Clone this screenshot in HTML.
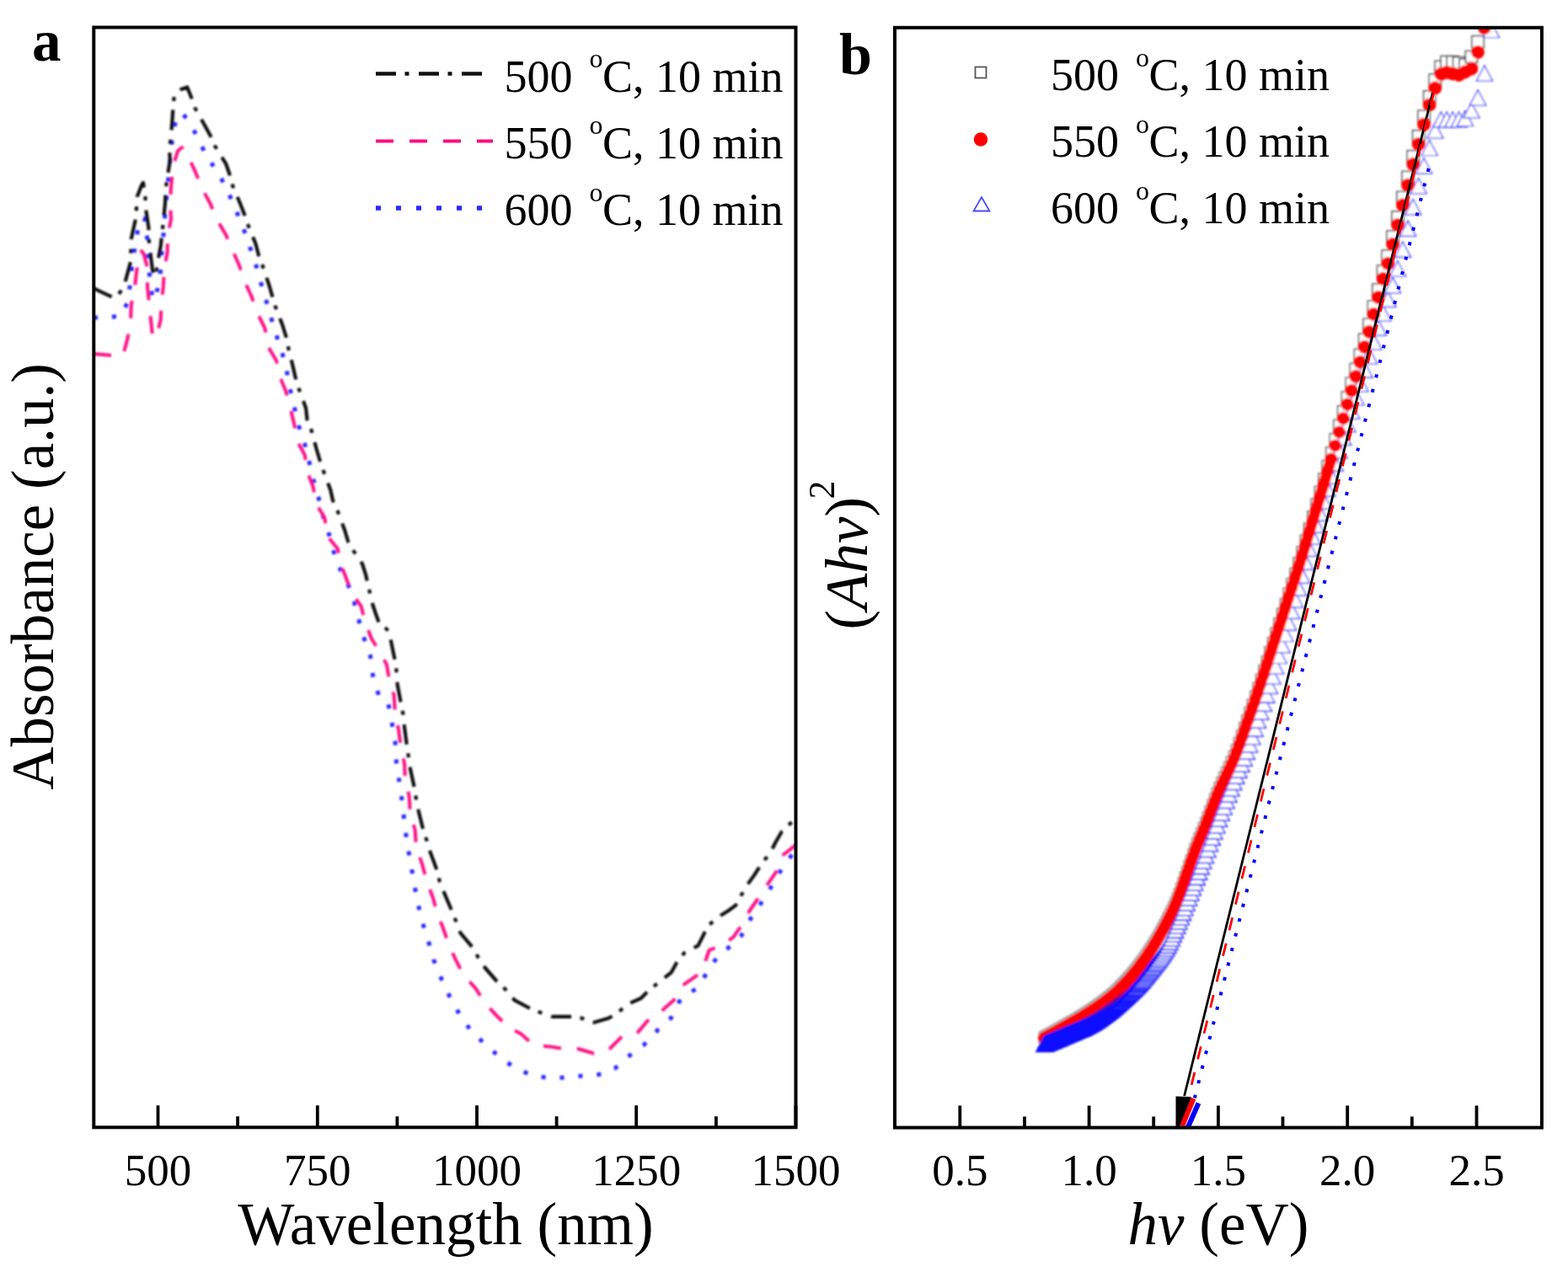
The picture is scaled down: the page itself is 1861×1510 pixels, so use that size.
<!DOCTYPE html>
<html><head><meta charset="utf-8"><title>Absorbance and Tauc plot</title>
<style>
html,body{margin:0;padding:0;background:#fff;}
svg{display:block;}
text{font-family:"Liberation Serif","Times New Roman",serif;fill:#000;}
</style></head><body>
<svg width="1861" height="1510" viewBox="0 0 1861 1510">
<defs>
<clipPath id="ca"><rect x="111.3" y="32.5" width="833.2" height="1305.8"/></clipPath>
<clipPath id="cb"><rect x="1062.0" y="32.8" width="767.9000000000001" height="1305.8"/></clipPath>
<filter id="soft" x="-2%" y="-2%" width="104%" height="104%"><feGaussianBlur stdDeviation="1.0"/></filter>
</defs>
<rect width="1861" height="1510" fill="#fff"/>

<g clip-path="url(#ca)"><g filter="url(#soft)" fill="none" stroke-linejoin="round">
<polyline points="111.0,377.0 125.5,377.2 143.8,374.8 151.7,358.2 155.0,333.5 157.3,309.7 161.3,286.6 165.2,263.6 168.5,259.0 171.6,259.6 174.8,283.4 175.6,308.0 178.0,331.0 181.0,355.0 183.5,356.0 186.7,343.9 190.7,320.8 192.2,297.0 194.6,273.0 196.2,249.3 198.6,225.4 200.8,201.5 203.0,177.3 205.8,153.6 210.0,140.0 216.5,134.0 228.3,150.8 239.0,173.3 250.3,192.5 262.7,212.0 273.4,234.0 282.4,255.0 291.2,277.3 298.6,299.3 306.0,321.4 312.0,344.6 319.4,368.0 325.5,391.0 333.4,413.4 339.5,435.6 343.6,459.3 349.2,483.0 354.8,506.6 361.7,527.4 367.3,549.7 372.9,573.3 379.8,597.0 385.4,620.6 393.7,643.0 398.7,666.5 410.4,687.4 418.7,708.2 425.1,733.3 431.3,755.5 439.6,779.0 442.5,801.7 449.5,825.4 460.6,833.7 464.8,856.0 469.0,880.0 470.3,904.0 474.0,928.3 477.3,952.0 480.0,975.6 482.9,999.0 487.0,1022.9 491.2,1046.5 495.4,1070.0 501.0,1093.8 508.0,1116.0 514.8,1139.7 524.1,1162.5 534.2,1184.0 546.5,1206.0 560.4,1225.6 577.8,1241.0 596.0,1257.8 614.8,1269.3 633.0,1277.3 651.0,1279.3 671.2,1279.3 694.7,1276.7 713.5,1275.3 730.3,1268.0 747.8,1252.5 764.0,1240.6 780.4,1223.0 796.8,1207.9 807.7,1186.0 827.4,1172.9 839.4,1154.3 851.5,1135.7 863.5,1126.0 879.9,1110.6 891.9,1088.8 906.0,1068.0 918.0,1048.3 930.0,1027.6 946.0,1007.0" stroke="#2828ff" stroke-width="5" stroke-dasharray="5 17"/>
<polyline points="111.0,420.0 131.0,421.7 146.0,421.7 151.0,403.5 155.0,384.4 155.7,362.0 159.7,343.9 162.0,323.0 165.2,305.0 168.0,298.0 170.8,301.7 174.8,317.6 175.0,340.7 177.0,359.0 179.0,379.6 181.0,398.7 183.5,401.0 186.0,398.7 190.7,379.6 191.5,359.0 193.8,340.7 195.0,318.4 198.6,300.0 199.0,279.5 203.0,260.4 202.0,239.7 203.0,222.0 205.3,198.0 211.0,179.0 216.0,175.0 224.4,188.0 231.7,203.7 240.0,224.0 249.7,242.0 257.0,260.0 268.0,278.5 275.3,295.6 283.9,315.0 290.0,333.6 298.6,352.0 304.7,370.0 314.5,390.0 317.0,409.6 328.0,428.0 332.5,448.0 339.5,465.0 345.0,485.7 349.2,503.8 353.4,524.6 361.7,540.0 364.5,559.4 371.5,577.5 375.6,598.4 385.4,615.0 388.0,636.0 400.7,651.2 404.8,670.7 411.8,688.8 417.4,704.0 428.5,719.4 434.0,740.0 441.0,758.3 448.0,769.4 459.0,789.0 462.0,807.3 467.6,825.4 469.0,847.6 473.0,865.7 476.0,888.0 480.0,906.0 481.0,927.0 485.6,945.0 487.0,967.0 492.6,985.0 494.0,1006.0 501.0,1025.6 506.5,1046.5 513.5,1064.6 519.0,1084.0 526.0,1102.0 532.8,1122.0 541.0,1139.6 550.3,1157.8 564.4,1173.2 576.5,1192.0 589.3,1205.5 603.4,1219.6 618.0,1227.0 633.0,1240.4 652.4,1242.4 668.5,1245.0 686.0,1245.0 704.8,1250.5 722.2,1246.4 738.4,1230.3 755.8,1227.0 768.4,1212.0 782.6,1202.4 800.0,1187.0 808.8,1170.7 826.3,1158.7 836.0,1144.5 841.6,1128.0 855.8,1122.6 870.0,1112.8 881.0,1097.5 889.7,1081.0 899.5,1067.0 910.5,1050.5 922.5,1033.0 930.0,1014.5 946.0,1002.0" stroke="#ff0a84" stroke-width="4" stroke-dasharray="21 19"/>
<polyline points="111.0,342.0 117.5,345.4 135.0,353.4 140.0,351.0 143.8,344.7 148.5,335.0 155.0,311.0 155.3,297.0 155.7,284.0 160.5,262.0 162.0,247.0 162.8,233.4 168.0,220.0 170.0,217.0 172.4,233.4 173.0,247.7 176.4,270.0 176.6,283.4 178.0,297.0 181.0,320.8 184.5,328.0 186.7,314.5 190.7,292.0 192.2,278.0 194.0,262.0 196.0,241.0 196.5,227.0 198.0,214.0 201.9,190.2 200.8,176.0 202.8,164.3 204.7,139.5 205.5,126.0 207.0,112.0 215.0,106.0 222.2,103.5 227.2,116.0 231.2,127.7 243.5,149.7 249.7,161.0 254.8,172.8 268.3,194.7 272.8,207.7 276.2,220.6 285.2,242.0 290.3,255.0 295.0,268.7 303.5,289.5 307.0,303.0 312.0,316.5 319.4,338.5 323.0,350.8 326.8,364.0 335.3,386.0 339.5,399.5 342.3,413.4 347.8,435.6 350.6,448.0 354.8,462.0 363.0,484.3 364.5,498.0 370.0,512.0 375.6,533.0 379.8,547.0 384.0,559.4 392.3,581.7 395.0,594.0 400.7,606.7 409.0,629.0 413.2,643.0 418.7,652.6 430.0,669.3 434.0,681.8 436.8,694.3 442.4,718.0 446.6,730.5 450.7,741.6 458.0,746.0 461.9,750.0 464.6,763.9 470.0,790.0 471.7,812.9 475.9,835.0 478.7,849.0 480.0,863.0 482.9,885.0 485.0,899.0 487.0,913.0 491.8,935.0 494.0,949.0 496.8,963.0 502.3,985.0 506.5,997.8 510.7,1011.7 519.0,1034.0 521.8,1046.5 527.4,1060.4 535.7,1080.0 541.3,1093.8 546.3,1107.4 561.0,1124.9 567.8,1137.0 575.8,1149.0 589.3,1164.5 601.3,1175.9 610.8,1187.3 629.6,1197.4 641.6,1202.0 655.0,1206.8 678.6,1206.8 690.7,1208.8 704.0,1214.0 722.2,1208.8 733.7,1202.0 743.7,1192.7 760.8,1185.0 770.6,1175.0 780.4,1167.4 796.8,1154.3 803.4,1142.3 812.0,1131.4 828.5,1122.6 834.0,1111.7 840.5,1098.6 855.8,1086.6 864.6,1081.0 873.3,1074.6 885.3,1052.7 894.7,1039.6 901.7,1028.7 914.8,1011.2 921.0,999.0 928.0,987.0 946.0,970.0" stroke="#111" stroke-width="4.2" stroke-dasharray="24 10.5 5 11.5"/>
</g></g>
<rect x="111.3" y="32.5" width="833.2" height="1305.8" fill="none" stroke="#000" stroke-width="4"/>
<path d="M187.5,1338.3V1312.3 M282.1,1338.3V1325.3 M376.8,1338.3V1312.3 M471.4,1338.3V1325.3 M566.0,1338.3V1312.3 M660.6,1338.3V1325.3 M755.2,1338.3V1312.3 M849.9,1338.3V1325.3 M944.5,1338.3V1312.3" stroke="#000" stroke-width="3.8" fill="none"/>
<text x="187.5" y="1407" font-size="53" text-anchor="middle">500</text>
<text x="376.8" y="1407" font-size="53" text-anchor="middle">750</text>
<text x="566.0" y="1407" font-size="53" text-anchor="middle">1000</text>
<text x="755.2" y="1407" font-size="53" text-anchor="middle">1250</text>
<text x="944.5" y="1407" font-size="53" text-anchor="middle">1500</text>
<text x="529" y="1477" font-size="71" text-anchor="middle">Wavelength (nm)</text>
<text transform="translate(63,684.5) rotate(-90)" font-size="71" text-anchor="middle">Absorbance (a.u.)</text>
<text x="38" y="72" font-size="69" font-weight="bold">a</text>
<line x1="446" y1="87.5" x2="572.5" y2="87.5" stroke="#111" stroke-width="4.5" stroke-dasharray="24 10.5 5 11.5"/>
<line x1="446" y1="167.5" x2="585" y2="167.5" stroke="#ff0a84" stroke-width="4" stroke-dasharray="21 19"/>
<line x1="446" y1="247" x2="575" y2="247" stroke="#2828ff" stroke-width="5.5" stroke-dasharray="6 18"/>
<text x="598.5" y="108.5" font-size="54">500</text><text x="699.5" y="80.0" font-size="32">o</text><text x="715.0" y="108.5" font-size="54">C, 10 min</text>
<text x="598.5" y="187.8" font-size="54">550</text><text x="699.5" y="159.3" font-size="32">o</text><text x="715.0" y="187.8" font-size="54">C, 10 min</text>
<text x="598.5" y="267.1" font-size="54">600</text><text x="699.5" y="238.60000000000002" font-size="32">o</text><text x="715.0" y="267.1" font-size="54">C, 10 min</text>
<g clip-path="url(#cb)"><g filter="url(#soft)">
<g fill="#fff" stroke-width="1.5">
<rect x="1232.9" y="1225.2" width="13.2" height="13.2" stroke="rgb(174,174,174)"/>
<rect x="1233.7" y="1224.7" width="13.2" height="13.2" stroke="rgb(174,174,174)"/>
<rect x="1234.6" y="1224.3" width="13.2" height="13.2" stroke="rgb(174,174,174)"/>
<rect x="1235.4" y="1223.9" width="13.2" height="13.2" stroke="rgb(174,174,174)"/>
<rect x="1236.3" y="1223.4" width="13.2" height="13.2" stroke="rgb(174,174,174)"/>
<rect x="1237.2" y="1223.0" width="13.2" height="13.2" stroke="rgb(174,174,174)"/>
<rect x="1238.0" y="1222.5" width="13.2" height="13.2" stroke="rgb(174,174,174)"/>
<rect x="1238.9" y="1222.0" width="13.2" height="13.2" stroke="rgb(174,174,174)"/>
<rect x="1239.8" y="1221.6" width="13.2" height="13.2" stroke="rgb(173,173,173)"/>
<rect x="1240.7" y="1221.1" width="13.2" height="13.2" stroke="rgb(173,173,173)"/>
<rect x="1241.6" y="1220.6" width="13.2" height="13.2" stroke="rgb(173,173,173)"/>
<rect x="1242.5" y="1220.1" width="13.2" height="13.2" stroke="rgb(173,173,173)"/>
<rect x="1243.4" y="1219.7" width="13.2" height="13.2" stroke="rgb(173,173,173)"/>
<rect x="1244.3" y="1219.2" width="13.2" height="13.2" stroke="rgb(173,173,173)"/>
<rect x="1245.3" y="1218.6" width="13.2" height="13.2" stroke="rgb(173,173,173)"/>
<rect x="1246.2" y="1218.1" width="13.2" height="13.2" stroke="rgb(173,173,173)"/>
<rect x="1247.1" y="1217.6" width="13.2" height="13.2" stroke="rgb(173,173,173)"/>
<rect x="1248.1" y="1217.1" width="13.2" height="13.2" stroke="rgb(172,172,172)"/>
<rect x="1249.0" y="1216.5" width="13.2" height="13.2" stroke="rgb(172,172,172)"/>
<rect x="1250.0" y="1216.0" width="13.2" height="13.2" stroke="rgb(172,172,172)"/>
<rect x="1251.0" y="1215.4" width="13.2" height="13.2" stroke="rgb(172,172,172)"/>
<rect x="1251.9" y="1214.9" width="13.2" height="13.2" stroke="rgb(172,172,172)"/>
<rect x="1252.9" y="1214.3" width="13.2" height="13.2" stroke="rgb(172,172,172)"/>
<rect x="1253.9" y="1213.8" width="13.2" height="13.2" stroke="rgb(172,172,172)"/>
<rect x="1254.9" y="1213.2" width="13.2" height="13.2" stroke="rgb(172,172,172)"/>
<rect x="1255.9" y="1212.6" width="13.2" height="13.2" stroke="rgb(172,172,172)"/>
<rect x="1256.9" y="1212.1" width="13.2" height="13.2" stroke="rgb(171,171,171)"/>
<rect x="1257.9" y="1211.5" width="13.2" height="13.2" stroke="rgb(171,171,171)"/>
<rect x="1258.9" y="1210.9" width="13.2" height="13.2" stroke="rgb(171,171,171)"/>
<rect x="1260.0" y="1210.3" width="13.2" height="13.2" stroke="rgb(171,171,171)"/>
<rect x="1261.0" y="1209.7" width="13.2" height="13.2" stroke="rgb(171,171,171)"/>
<rect x="1262.1" y="1209.1" width="13.2" height="13.2" stroke="rgb(171,171,171)"/>
<rect x="1263.1" y="1208.5" width="13.2" height="13.2" stroke="rgb(171,171,171)"/>
<rect x="1264.2" y="1207.9" width="13.2" height="13.2" stroke="rgb(171,171,171)"/>
<rect x="1265.3" y="1207.3" width="13.2" height="13.2" stroke="rgb(170,170,170)"/>
<rect x="1266.3" y="1206.7" width="13.2" height="13.2" stroke="rgb(170,170,170)"/>
<rect x="1267.4" y="1206.1" width="13.2" height="13.2" stroke="rgb(170,170,170)"/>
<rect x="1268.5" y="1205.4" width="13.2" height="13.2" stroke="rgb(170,170,170)"/>
<rect x="1269.6" y="1204.8" width="13.2" height="13.2" stroke="rgb(170,170,170)"/>
<rect x="1270.7" y="1204.2" width="13.2" height="13.2" stroke="rgb(170,170,170)"/>
<rect x="1271.8" y="1203.5" width="13.2" height="13.2" stroke="rgb(170,170,170)"/>
<rect x="1273.0" y="1202.8" width="13.2" height="13.2" stroke="rgb(170,170,170)"/>
<rect x="1274.1" y="1202.2" width="13.2" height="13.2" stroke="rgb(169,169,169)"/>
<rect x="1275.3" y="1201.5" width="13.2" height="13.2" stroke="rgb(169,169,169)"/>
<rect x="1276.4" y="1200.8" width="13.2" height="13.2" stroke="rgb(169,169,169)"/>
<rect x="1277.6" y="1200.1" width="13.2" height="13.2" stroke="rgb(169,169,169)"/>
<rect x="1278.8" y="1199.4" width="13.2" height="13.2" stroke="rgb(169,169,169)"/>
<rect x="1279.9" y="1198.7" width="13.2" height="13.2" stroke="rgb(169,169,169)"/>
<rect x="1281.1" y="1197.9" width="13.2" height="13.2" stroke="rgb(169,169,169)"/>
<rect x="1282.3" y="1197.2" width="13.2" height="13.2" stroke="rgb(168,168,168)"/>
<rect x="1283.5" y="1196.4" width="13.2" height="13.2" stroke="rgb(168,168,168)"/>
<rect x="1284.8" y="1195.6" width="13.2" height="13.2" stroke="rgb(168,168,168)"/>
<rect x="1286.0" y="1194.9" width="13.2" height="13.2" stroke="rgb(168,168,168)"/>
<rect x="1287.2" y="1194.1" width="13.2" height="13.2" stroke="rgb(168,168,168)"/>
<rect x="1288.5" y="1193.2" width="13.2" height="13.2" stroke="rgb(168,168,168)"/>
<rect x="1289.8" y="1192.4" width="13.2" height="13.2" stroke="rgb(168,168,168)"/>
<rect x="1291.0" y="1191.6" width="13.2" height="13.2" stroke="rgb(167,167,167)"/>
<rect x="1292.3" y="1190.7" width="13.2" height="13.2" stroke="rgb(167,167,167)"/>
<rect x="1293.6" y="1189.8" width="13.2" height="13.2" stroke="rgb(167,167,167)"/>
<rect x="1294.9" y="1188.9" width="13.2" height="13.2" stroke="rgb(167,167,167)"/>
<rect x="1296.2" y="1188.0" width="13.2" height="13.2" stroke="rgb(167,167,167)"/>
<rect x="1297.6" y="1187.1" width="13.1" height="13.1" stroke="rgb(167,167,167)"/>
<rect x="1298.9" y="1186.1" width="13.1" height="13.1" stroke="rgb(166,166,166)"/>
<rect x="1300.3" y="1185.2" width="13.1" height="13.1" stroke="rgb(166,166,166)"/>
<rect x="1301.6" y="1184.2" width="13.1" height="13.1" stroke="rgb(166,166,166)"/>
<rect x="1303.0" y="1183.1" width="13.1" height="13.1" stroke="rgb(166,166,166)"/>
<rect x="1304.4" y="1182.1" width="13.0" height="13.0" stroke="rgb(166,166,166)"/>
<rect x="1305.8" y="1181.0" width="13.0" height="13.0" stroke="rgb(166,166,166)"/>
<rect x="1307.2" y="1179.9" width="13.0" height="13.0" stroke="rgb(165,165,165)"/>
<rect x="1308.7" y="1178.8" width="13.0" height="13.0" stroke="rgb(165,165,165)"/>
<rect x="1310.1" y="1177.6" width="13.0" height="13.0" stroke="rgb(165,165,165)"/>
<rect x="1311.6" y="1176.5" width="12.9" height="12.9" stroke="rgb(165,165,165)"/>
<rect x="1313.0" y="1175.2" width="12.9" height="12.9" stroke="rgb(165,165,165)"/>
<rect x="1314.5" y="1174.0" width="12.9" height="12.9" stroke="rgb(165,165,165)"/>
<rect x="1316.0" y="1172.7" width="12.9" height="12.9" stroke="rgb(164,164,164)"/>
<rect x="1317.5" y="1171.3" width="12.9" height="12.9" stroke="rgb(164,164,164)"/>
<rect x="1319.0" y="1169.9" width="12.8" height="12.8" stroke="rgb(164,164,164)"/>
<rect x="1320.6" y="1168.4" width="12.8" height="12.8" stroke="rgb(164,164,164)"/>
<rect x="1322.1" y="1166.9" width="12.8" height="12.8" stroke="rgb(164,164,164)"/>
<rect x="1323.7" y="1165.4" width="12.8" height="12.8" stroke="rgb(164,164,164)"/>
<rect x="1325.2" y="1163.8" width="12.8" height="12.8" stroke="rgb(163,163,163)"/>
<rect x="1326.8" y="1162.2" width="12.7" height="12.7" stroke="rgb(163,163,163)"/>
<rect x="1328.4" y="1160.5" width="12.7" height="12.7" stroke="rgb(163,163,163)"/>
<rect x="1330.1" y="1158.7" width="12.7" height="12.7" stroke="rgb(163,163,163)"/>
<rect x="1331.7" y="1156.9" width="12.7" height="12.7" stroke="rgb(163,163,163)"/>
<rect x="1333.3" y="1155.0" width="12.6" height="12.6" stroke="rgb(162,162,162)"/>
<rect x="1335.0" y="1153.1" width="12.6" height="12.6" stroke="rgb(162,162,162)"/>
<rect x="1336.7" y="1151.2" width="12.6" height="12.6" stroke="rgb(162,162,162)"/>
<rect x="1338.4" y="1149.1" width="12.6" height="12.6" stroke="rgb(162,162,162)"/>
<rect x="1340.1" y="1147.1" width="12.6" height="12.6" stroke="rgb(162,162,162)"/>
<rect x="1341.8" y="1144.9" width="12.5" height="12.5" stroke="rgb(161,161,161)"/>
<rect x="1343.6" y="1142.7" width="12.5" height="12.5" stroke="rgb(161,161,161)"/>
<rect x="1345.3" y="1140.4" width="12.5" height="12.5" stroke="rgb(161,161,161)"/>
<rect x="1347.1" y="1138.1" width="12.5" height="12.5" stroke="rgb(161,161,161)"/>
<rect x="1348.9" y="1135.7" width="12.4" height="12.4" stroke="rgb(161,161,161)"/>
<rect x="1350.7" y="1133.2" width="12.4" height="12.4" stroke="rgb(160,160,160)"/>
<rect x="1352.5" y="1130.6" width="12.4" height="12.4" stroke="rgb(160,160,160)"/>
<rect x="1354.4" y="1128.0" width="12.4" height="12.4" stroke="rgb(160,160,160)"/>
<rect x="1356.3" y="1125.2" width="12.3" height="12.3" stroke="rgb(160,160,160)"/>
<rect x="1358.1" y="1122.4" width="12.3" height="12.3" stroke="rgb(160,160,160)"/>
<rect x="1360.0" y="1119.4" width="12.3" height="12.3" stroke="rgb(159,159,159)"/>
<rect x="1362.0" y="1116.4" width="12.2" height="12.2" stroke="rgb(159,159,159)"/>
<rect x="1363.9" y="1113.3" width="12.2" height="12.2" stroke="rgb(159,159,159)"/>
<rect x="1365.9" y="1110.0" width="12.2" height="12.2" stroke="rgb(159,159,159)"/>
<rect x="1367.9" y="1106.6" width="12.2" height="12.2" stroke="rgb(158,158,158)"/>
<rect x="1369.9" y="1103.1" width="12.1" height="12.1" stroke="rgb(158,158,158)"/>
<rect x="1371.9" y="1099.5" width="12.1" height="12.1" stroke="rgb(158,158,158)"/>
<rect x="1373.9" y="1095.8" width="12.1" height="12.1" stroke="rgb(158,158,158)"/>
<rect x="1376.0" y="1091.9" width="12.1" height="12.1" stroke="rgb(157,157,157)"/>
<rect x="1378.1" y="1087.9" width="12.0" height="12.0" stroke="rgb(157,157,157)"/>
<rect x="1380.2" y="1083.7" width="12.0" height="12.0" stroke="rgb(157,157,157)"/>
<rect x="1382.3" y="1079.4" width="12.0" height="12.0" stroke="rgb(157,157,157)"/>
<rect x="1384.5" y="1075.0" width="11.9" height="11.9" stroke="rgb(156,156,156)"/>
<rect x="1386.7" y="1070.4" width="11.9" height="11.9" stroke="rgb(156,156,156)"/>
<rect x="1388.9" y="1065.6" width="11.9" height="11.9" stroke="rgb(156,156,156)"/>
<rect x="1391.1" y="1060.4" width="11.8" height="11.8" stroke="rgb(156,156,156)"/>
<rect x="1393.3" y="1054.6" width="11.8" height="11.8" stroke="rgb(155,155,155)"/>
<rect x="1395.6" y="1048.3" width="11.8" height="11.8" stroke="rgb(155,155,155)"/>
<rect x="1397.9" y="1041.8" width="11.8" height="11.8" stroke="rgb(155,155,155)"/>
<rect x="1400.2" y="1035.2" width="11.8" height="11.8" stroke="rgb(155,155,155)"/>
<rect x="1402.5" y="1028.6" width="11.8" height="11.8" stroke="rgb(154,154,154)"/>
<rect x="1404.9" y="1021.7" width="11.8" height="11.8" stroke="rgb(154,154,154)"/>
<rect x="1407.3" y="1014.8" width="11.8" height="11.8" stroke="rgb(154,154,154)"/>
<rect x="1409.7" y="1007.9" width="11.8" height="11.8" stroke="rgb(154,154,154)"/>
<rect x="1412.1" y="1001.2" width="11.8" height="11.8" stroke="rgb(153,153,153)"/>
<rect x="1414.6" y="994.8" width="11.8" height="11.8" stroke="rgb(153,153,153)"/>
<rect x="1417.1" y="988.6" width="11.8" height="11.8" stroke="rgb(153,153,153)"/>
<rect x="1419.6" y="982.5" width="11.8" height="11.8" stroke="rgb(152,152,152)"/>
<rect x="1422.2" y="976.4" width="11.8" height="11.8" stroke="rgb(152,152,152)"/>
<rect x="1424.8" y="970.1" width="11.8" height="11.8" stroke="rgb(152,152,152)"/>
<rect x="1427.4" y="963.4" width="11.8" height="11.8" stroke="rgb(151,151,151)"/>
<rect x="1430.0" y="956.5" width="11.8" height="11.8" stroke="rgb(151,151,151)"/>
<rect x="1432.7" y="949.4" width="11.8" height="11.8" stroke="rgb(151,151,151)"/>
<rect x="1435.4" y="942.3" width="11.8" height="11.8" stroke="rgb(151,151,151)"/>
<rect x="1438.2" y="935.4" width="11.8" height="11.8" stroke="rgb(150,150,150)"/>
<rect x="1440.9" y="928.7" width="11.8" height="11.8" stroke="rgb(150,150,150)"/>
<rect x="1443.7" y="922.5" width="11.8" height="11.8" stroke="rgb(150,150,150)"/>
<rect x="1446.6" y="916.5" width="11.8" height="11.8" stroke="rgb(148,148,148)"/>
<rect x="1449.5" y="910.6" width="11.8" height="11.8" stroke="rgb(147,147,147)"/>
<rect x="1452.4" y="904.6" width="11.8" height="11.8" stroke="rgb(146,146,146)"/>
<rect x="1455.3" y="898.2" width="11.8" height="11.8" stroke="rgb(144,144,144)"/>
<rect x="1458.3" y="891.4" width="11.8" height="11.8" stroke="rgb(143,143,143)"/>
<rect x="1461.3" y="883.8" width="11.8" height="11.8" stroke="rgb(142,142,142)"/>
<rect x="1464.4" y="875.5" width="11.8" height="11.8" stroke="rgb(140,140,140)"/>
<rect x="1467.5" y="866.7" width="11.8" height="11.8" stroke="rgb(139,139,139)"/>
<rect x="1470.7" y="857.7" width="11.8" height="11.8" stroke="rgb(137,137,137)"/>
<rect x="1473.8" y="848.6" width="11.8" height="11.8" stroke="rgb(136,136,136)"/>
<rect x="1477.1" y="839.4" width="11.8" height="11.8" stroke="rgb(135,135,135)"/>
<rect x="1480.3" y="830.0" width="11.8" height="11.8" stroke="rgb(133,133,133)"/>
<rect x="1483.7" y="820.3" width="11.8" height="11.8" stroke="rgb(132,132,132)"/>
<rect x="1487.0" y="810.4" width="11.8" height="11.8" stroke="rgb(130,130,130)"/>
<rect x="1490.4" y="800.1" width="11.8" height="11.8" stroke="rgb(128,128,128)"/>
<rect x="1493.9" y="789.5" width="11.8" height="11.8" stroke="rgb(127,127,127)"/>
<rect x="1497.4" y="778.7" width="11.8" height="11.8" stroke="rgb(125,125,125)"/>
<rect x="1500.9" y="767.7" width="11.8" height="11.8" stroke="rgb(124,124,124)"/>
<rect x="1504.5" y="756.5" width="11.8" height="11.8" stroke="rgb(122,122,122)"/>
<rect x="1508.1" y="745.2" width="11.8" height="11.8" stroke="rgb(120,120,120)"/>
<rect x="1511.8" y="733.8" width="11.8" height="11.8" stroke="rgb(119,119,119)"/>
<rect x="1515.6" y="722.3" width="11.8" height="11.8" stroke="rgb(117,117,117)"/>
<rect x="1519.4" y="710.5" width="11.8" height="11.8" stroke="rgb(115,115,115)"/>
<rect x="1523.2" y="698.3" width="11.8" height="11.8" stroke="rgb(114,114,114)"/>
<rect x="1527.1" y="686.6" width="11.8" height="11.8" stroke="rgb(112,112,112)"/>
<rect x="1531.1" y="674.4" width="11.8" height="11.8" stroke="rgb(110,110,110)"/>
<rect x="1535.1" y="661.8" width="11.8" height="11.8" stroke="rgb(108,108,108)"/>
<rect x="1539.2" y="648.9" width="11.8" height="11.8" stroke="rgb(106,106,106)"/>
<rect x="1543.3" y="635.2" width="11.8" height="11.8" stroke="rgb(104,104,104)"/>
<rect x="1547.5" y="621.1" width="11.8" height="11.8" stroke="rgb(102,102,102)"/>
<rect x="1551.8" y="606.8" width="11.8" height="11.8" stroke="rgb(101,101,101)"/>
<rect x="1556.1" y="592.2" width="11.9" height="11.9" stroke="rgb(99,99,99)"/>
<rect x="1560.4" y="577.3" width="12.1" height="12.1" stroke="rgb(97,97,97)"/>
<rect x="1564.8" y="562.1" width="12.3" height="12.3" stroke="rgb(95,95,95)"/>
<rect x="1569.2" y="546.6" width="12.5" height="12.5" stroke="rgb(93,93,93)"/>
<rect x="1573.7" y="530.9" width="12.7" height="12.7" stroke="rgb(91,91,91)"/>
<rect x="1578.3" y="514.8" width="12.9" height="12.9" stroke="rgb(89,89,89)"/>
<rect x="1582.9" y="498.4" width="13.1" height="13.1" stroke="rgb(86,86,86)"/>
<rect x="1587.6" y="481.8" width="13.3" height="13.3" stroke="rgb(84,84,84)"/>
<rect x="1592.4" y="465.0" width="13.5" height="13.5" stroke="rgb(82,82,82)"/>
<rect x="1597.3" y="448.3" width="13.7" height="13.7" stroke="rgb(80,80,80)"/>
<rect x="1602.3" y="431.4" width="14.0" height="14.0" stroke="rgb(78,78,78)"/>
<rect x="1607.4" y="414.4" width="14.0" height="14.0" stroke="rgb(75,75,75)"/>
<rect x="1612.6" y="396.3" width="14.0" height="14.0" stroke="rgb(73,73,73)"/>
<rect x="1618.0" y="378.3" width="14.0" height="14.0" stroke="rgb(71,71,71)"/>
<rect x="1623.4" y="357.2" width="14.0" height="14.0" stroke="rgb(68,68,68)"/>
<rect x="1628.9" y="337.1" width="14.0" height="14.0" stroke="rgb(66,66,66)"/>
<rect x="1634.5" y="315.1" width="14.0" height="14.0" stroke="rgb(63,63,63)"/>
<rect x="1640.2" y="297.0" width="14.0" height="14.0" stroke="rgb(61,61,61)"/>
<rect x="1646.0" y="274.0" width="14.0" height="14.0" stroke="rgb(60,60,60)"/>
<rect x="1651.9" y="250.9" width="14.0" height="14.0" stroke="rgb(60,60,60)"/>
<rect x="1657.9" y="227.4" width="14.0" height="14.0" stroke="rgb(60,60,60)"/>
<rect x="1664.0" y="203.4" width="14.0" height="14.0" stroke="rgb(60,60,60)"/>
<rect x="1670.2" y="178.7" width="14.0" height="14.0" stroke="rgb(60,60,60)"/>
<rect x="1676.6" y="154.7" width="14.0" height="14.0" stroke="rgb(60,60,60)"/>
<rect x="1683.0" y="131.2" width="14.0" height="14.0" stroke="rgb(60,60,60)"/>
<rect x="1689.6" y="107.9" width="14.0" height="14.0" stroke="rgb(60,60,60)"/>
<rect x="1696.3" y="88.0" width="14.0" height="14.0" stroke="rgb(60,60,60)"/>
<rect x="1703.2" y="72.4" width="14.0" height="14.0" stroke="rgb(60,60,60)"/>
<rect x="1710.1" y="66.5" width="14.0" height="14.0" stroke="rgb(60,60,60)"/>
<rect x="1717.2" y="66.7" width="14.0" height="14.0" stroke="rgb(60,60,60)"/>
<rect x="1724.5" y="67.6" width="14.0" height="14.0" stroke="rgb(60,60,60)"/>
<rect x="1731.8" y="70.0" width="14.0" height="14.0" stroke="rgb(60,60,60)"/>
<rect x="1739.4" y="60.5" width="14.0" height="14.0" stroke="rgb(60,60,60)"/>
<rect x="1747.0" y="42.6" width="14.0" height="14.0" stroke="rgb(60,60,60)"/>
<rect x="1754.9" y="18.0" width="14.0" height="14.0" stroke="rgb(60,60,60)"/>
<rect x="1762.9" y="-13.5" width="14.0" height="14.0" stroke="rgb(60,60,60)"/>
</g><g fill="#fff" stroke="#1010ff" stroke-width="1.2">
<path d="M1280.7,1213.0L1290.2,1231.0L1271.2,1231.0Z" stroke-width="1.70"/>
<path d="M1281.9,1212.5L1291.4,1230.5L1272.4,1230.5Z" stroke-width="1.70"/>
<path d="M1283.0,1212.0L1292.5,1230.0L1273.5,1230.0Z" stroke-width="1.70"/>
<path d="M1284.2,1211.4L1293.7,1229.4L1274.7,1229.4Z" stroke-width="1.70"/>
<path d="M1285.4,1210.9L1294.9,1228.9L1275.9,1228.9Z" stroke-width="1.70"/>
<path d="M1286.5,1210.3L1296.0,1228.3L1277.0,1228.3Z" stroke-width="1.70"/>
<path d="M1287.7,1209.7L1297.2,1227.7L1278.2,1227.7Z" stroke-width="1.70"/>
<path d="M1288.9,1209.1L1298.4,1227.1L1279.4,1227.1Z" stroke-width="1.70"/>
<path d="M1290.1,1208.5L1299.6,1226.5L1280.6,1226.5Z" stroke-width="1.70"/>
<path d="M1291.4,1207.9L1300.9,1225.9L1281.9,1225.9Z" stroke-width="1.70"/>
<path d="M1292.6,1207.2L1302.1,1225.2L1283.1,1225.2Z" stroke-width="1.70"/>
<path d="M1293.8,1206.5L1303.3,1224.5L1284.3,1224.5Z" stroke-width="1.70"/>
<path d="M1295.1,1205.8L1304.6,1223.8L1285.6,1223.8Z" stroke-width="1.70"/>
<path d="M1296.4,1205.1L1305.9,1223.1L1286.9,1223.1Z" stroke-width="1.70"/>
<path d="M1297.6,1204.3L1307.1,1222.3L1288.1,1222.3Z" stroke-width="1.70"/>
<path d="M1298.9,1203.5L1308.4,1221.5L1289.4,1221.5Z" stroke-width="1.70"/>
<path d="M1300.2,1202.7L1309.7,1220.7L1290.7,1220.7Z" stroke-width="1.70"/>
<path d="M1301.5,1201.8L1311.0,1219.8L1292.0,1219.8Z" stroke-width="1.70"/>
<path d="M1302.8,1201.0L1312.3,1219.0L1293.3,1219.0Z" stroke-width="1.70"/>
<path d="M1304.1,1200.1L1313.6,1218.1L1294.6,1218.1Z" stroke-width="1.70"/>
<path d="M1305.5,1199.1L1315.0,1217.1L1296.0,1217.1Z" stroke-width="1.70"/>
<path d="M1306.8,1198.2L1316.3,1216.2L1297.3,1216.2Z" stroke-width="1.70"/>
<path d="M1308.2,1197.2L1317.7,1215.2L1298.7,1215.2Z" stroke-width="1.70"/>
<path d="M1309.6,1196.2L1319.1,1214.2L1300.1,1214.2Z" stroke-width="1.70"/>
<path d="M1310.9,1195.2L1320.4,1213.2L1301.4,1213.2Z" stroke-width="1.70"/>
<path d="M1312.3,1194.2L1321.8,1212.2L1302.8,1212.2Z" stroke-width="1.70"/>
<path d="M1313.7,1193.1L1323.2,1211.1L1304.2,1211.1Z" stroke-width="1.70"/>
<path d="M1315.2,1192.0L1324.7,1210.0L1305.7,1210.0Z" stroke-width="1.70"/>
<path d="M1316.6,1190.9L1326.1,1208.9L1307.1,1208.9Z" stroke-width="1.70"/>
<path d="M1318.0,1189.8L1327.5,1207.8L1308.5,1207.8Z" stroke-width="1.70"/>
<path d="M1319.5,1188.6L1329.0,1206.6L1310.0,1206.6Z" stroke-width="1.70"/>
<path d="M1321.0,1187.4L1330.5,1205.4L1311.5,1205.4Z" stroke-width="1.70"/>
<path d="M1322.4,1186.2L1331.9,1204.2L1312.9,1204.2Z" stroke-width="1.70"/>
<path d="M1323.9,1184.9L1333.4,1202.9L1314.4,1202.9Z" stroke-width="1.70"/>
<path d="M1325.5,1183.6L1335.0,1201.6L1316.0,1201.6Z" stroke-width="1.70"/>
<path d="M1327.0,1182.2L1336.5,1200.2L1317.5,1200.2Z" stroke-width="1.70"/>
<path d="M1328.5,1180.9L1338.0,1198.9L1319.0,1198.9Z" stroke-width="1.70"/>
<path d="M1330.1,1179.5L1339.6,1197.5L1320.6,1197.5Z" stroke-width="1.70"/>
<path d="M1331.6,1178.0L1341.1,1196.0L1322.1,1196.0Z" stroke-width="1.70"/>
<path d="M1333.2,1176.6L1342.7,1194.6L1323.7,1194.6Z" stroke-width="1.70"/>
<path d="M1334.8,1175.1L1344.3,1193.1L1325.3,1193.1Z" stroke-width="1.70"/>
<path d="M1336.4,1173.7L1345.9,1191.7L1326.9,1191.7Z" stroke-width="1.70"/>
<path d="M1338.0,1172.2L1347.5,1190.2L1328.5,1190.2Z" stroke-width="1.70"/>
<path d="M1339.7,1170.7L1349.2,1188.7L1330.2,1188.7Z" stroke-width="1.70"/>
<path d="M1341.3,1169.1L1350.8,1187.1L1331.8,1187.1Z" stroke-width="1.70"/>
<path d="M1343.0,1167.5L1352.5,1185.5L1333.5,1185.5Z" stroke-width="1.70"/>
<path d="M1344.7,1165.9L1354.2,1183.9L1335.2,1183.9Z" stroke-width="1.70"/>
<path d="M1346.4,1164.2L1355.9,1182.2L1336.9,1182.2Z" stroke-width="1.70"/>
<path d="M1348.1,1162.5L1357.6,1180.5L1338.6,1180.5Z" stroke-width="1.70"/>
<path d="M1349.8,1160.7L1359.3,1178.7L1340.3,1178.7Z" stroke-width="1.70"/>
<path d="M1351.6,1158.8L1361.1,1176.8L1342.1,1176.8Z" stroke-width="1.70"/>
<path d="M1353.3,1156.8L1362.8,1174.8L1343.8,1174.8Z" stroke-width="1.69"/>
<path d="M1355.1,1154.8L1364.6,1172.8L1345.6,1172.8Z" stroke-width="1.69"/>
<path d="M1356.9,1152.7L1366.4,1170.7L1347.4,1170.7Z" stroke-width="1.69"/>
<path d="M1358.7,1150.5L1368.2,1168.5L1349.2,1168.5Z" stroke-width="1.68"/>
<path d="M1360.6,1148.3L1370.1,1166.3L1351.1,1166.3Z" stroke-width="1.68"/>
<path d="M1362.4,1146.0L1371.9,1164.0L1352.9,1164.0Z" stroke-width="1.68"/>
<path d="M1364.3,1143.7L1373.8,1161.7L1354.8,1161.7Z" stroke-width="1.67"/>
<path d="M1366.2,1141.3L1375.7,1159.3L1356.7,1159.3Z" stroke-width="1.67"/>
<path d="M1368.1,1138.9L1377.6,1156.9L1358.6,1156.9Z" stroke-width="1.66"/>
<path d="M1370.0,1136.4L1379.5,1154.4L1360.5,1154.4Z" stroke-width="1.66"/>
<path d="M1372.0,1134.0L1381.5,1152.0L1362.5,1152.0Z" stroke-width="1.66"/>
<path d="M1373.9,1131.5L1383.4,1149.5L1364.4,1149.5Z" stroke-width="1.65"/>
<path d="M1375.9,1128.9L1385.4,1146.9L1366.4,1146.9Z" stroke-width="1.65"/>
<path d="M1377.9,1126.2L1387.4,1144.2L1368.4,1144.2Z" stroke-width="1.64"/>
<path d="M1380.0,1123.3L1389.5,1141.3L1370.5,1141.3Z" stroke-width="1.64"/>
<path d="M1382.0,1120.3L1391.5,1138.3L1372.5,1138.3Z" stroke-width="1.64"/>
<path d="M1384.1,1117.0L1393.6,1135.0L1374.6,1135.0Z" stroke-width="1.63"/>
<path d="M1386.2,1113.4L1395.7,1131.4L1376.7,1131.4Z" stroke-width="1.63"/>
<path d="M1388.3,1109.4L1397.8,1127.4L1378.8,1127.4Z" stroke-width="1.62"/>
<path d="M1390.5,1105.0L1400.0,1123.0L1381.0,1123.0Z" stroke-width="1.62"/>
<path d="M1392.6,1100.3L1402.1,1118.3L1383.1,1118.3Z" stroke-width="1.61"/>
<path d="M1394.8,1095.4L1404.3,1113.4L1385.3,1113.4Z" stroke-width="1.61"/>
<path d="M1397.0,1090.3L1406.5,1108.3L1387.5,1108.3Z" stroke-width="1.61"/>
<path d="M1399.2,1085.0L1408.7,1103.0L1389.7,1103.0Z" stroke-width="1.60"/>
<path d="M1401.5,1079.8L1411.0,1097.8L1392.0,1097.8Z" stroke-width="1.60"/>
<path d="M1403.8,1074.4L1413.3,1092.4L1394.3,1092.4Z" stroke-width="1.59"/>
<path d="M1406.1,1068.8L1415.6,1086.8L1396.6,1086.8Z" stroke-width="1.59"/>
<path d="M1408.4,1063.0L1417.9,1081.0L1398.9,1081.0Z" stroke-width="1.58"/>
<path d="M1410.8,1057.0L1420.3,1075.0L1401.3,1075.0Z" stroke-width="1.58"/>
<path d="M1413.2,1051.0L1422.7,1069.0L1403.7,1069.0Z" stroke-width="1.57"/>
<path d="M1415.6,1044.8L1425.1,1062.8L1406.1,1062.8Z" stroke-width="1.57"/>
<path d="M1418.0,1038.7L1427.5,1056.7L1408.5,1056.7Z" stroke-width="1.56"/>
<path d="M1420.5,1032.4L1430.0,1050.4L1411.0,1050.4Z" stroke-width="1.56"/>
<path d="M1423.0,1026.1L1432.5,1044.1L1413.5,1044.1Z" stroke-width="1.55"/>
<path d="M1425.5,1019.6L1435.0,1037.6L1416.0,1037.6Z" stroke-width="1.55"/>
<path d="M1428.1,1013.0L1437.6,1031.0L1418.6,1031.0Z" stroke-width="1.54"/>
<path d="M1430.7,1006.4L1440.2,1024.4L1421.2,1024.4Z" stroke-width="1.54"/>
<path d="M1433.3,999.5L1442.8,1017.5L1423.8,1017.5Z" stroke-width="1.53"/>
<path d="M1435.9,992.5L1445.4,1010.5L1426.4,1010.5Z" stroke-width="1.53"/>
<path d="M1438.6,985.3L1448.1,1003.3L1429.1,1003.3Z" stroke-width="1.52"/>
<path d="M1441.3,978.0L1450.8,996.0L1431.8,996.0Z" stroke-width="1.52"/>
<path d="M1444.1,970.7L1453.6,988.7L1434.6,988.7Z" stroke-width="1.51"/>
<path d="M1446.8,963.3L1456.3,981.3L1437.3,981.3Z" stroke-width="1.51"/>
<path d="M1449.6,956.0L1459.1,974.0L1440.1,974.0Z" stroke-width="1.50"/>
<path d="M1452.5,948.7L1462.0,966.7L1443.0,966.7Z" stroke-width="1.49"/>
<path d="M1455.4,941.4L1464.9,959.4L1445.9,959.4Z" stroke-width="1.48"/>
<path d="M1458.3,934.1L1467.8,952.1L1448.8,952.1Z" stroke-width="1.46"/>
<path d="M1461.2,926.8L1470.7,944.8L1451.7,944.8Z" stroke-width="1.45"/>
<path d="M1464.2,919.5L1473.7,937.5L1454.7,937.5Z" stroke-width="1.44"/>
<path d="M1467.2,912.3L1476.7,930.3L1457.7,930.3Z" stroke-width="1.43"/>
<path d="M1470.3,905.3L1479.8,923.3L1460.8,923.3Z" stroke-width="1.41"/>
<path d="M1473.4,898.2L1482.9,916.2L1463.9,916.2Z" stroke-width="1.40"/>
<path d="M1476.6,891.0L1486.1,909.0L1467.1,909.0Z" stroke-width="1.39"/>
<path d="M1479.7,883.2L1489.2,901.2L1470.2,901.2Z" stroke-width="1.37"/>
<path d="M1483.0,874.8L1492.5,892.8L1473.5,892.8Z" stroke-width="1.36"/>
<path d="M1486.2,865.6L1495.7,883.6L1476.7,883.6Z" stroke-width="1.34"/>
<path d="M1489.6,856.0L1499.1,874.0L1480.1,874.0Z" stroke-width="1.33"/>
<path d="M1492.9,846.1L1502.4,864.1L1483.4,864.1Z" stroke-width="1.32"/>
<path d="M1496.3,836.2L1505.8,854.2L1486.8,854.2Z" stroke-width="1.30"/>
<path d="M1499.8,826.2L1509.3,844.2L1490.3,844.2Z" stroke-width="1.29"/>
<path d="M1503.3,816.0L1512.8,834.0L1493.8,834.0Z" stroke-width="1.27"/>
<path d="M1506.8,805.3L1516.3,823.3L1497.3,823.3Z" stroke-width="1.26"/>
<path d="M1510.4,794.0L1519.9,812.0L1500.9,812.0Z" stroke-width="1.24"/>
<path d="M1514.0,782.0L1523.5,800.0L1504.5,800.0Z" stroke-width="1.23"/>
<path d="M1517.7,769.5L1527.2,787.5L1508.2,787.5Z" stroke-width="1.21"/>
<path d="M1521.5,756.7L1531.0,774.7L1512.0,774.7Z" stroke-width="1.20"/>
<path d="M1525.3,743.5L1534.8,761.5L1515.8,761.5Z" stroke-width="1.20"/>
<path d="M1529.1,730.1L1538.6,748.1L1519.6,748.1Z" stroke-width="1.20"/>
<path d="M1533.0,716.4L1542.5,734.4L1523.5,734.4Z" stroke-width="1.20"/>
<path d="M1537.0,702.8L1546.5,720.8L1527.5,720.8Z" stroke-width="1.20"/>
<path d="M1541.0,688.9L1550.5,706.9L1531.5,706.9Z" stroke-width="1.20"/>
<path d="M1545.1,674.1L1554.6,692.1L1535.6,692.1Z" stroke-width="1.20"/>
<path d="M1549.2,658.1L1558.7,676.1L1539.7,676.1Z" stroke-width="1.20"/>
<path d="M1553.4,642.3L1562.9,660.3L1543.9,660.3Z" stroke-width="1.20"/>
<path d="M1557.7,627.9L1567.2,645.9L1548.2,645.9Z" stroke-width="1.20"/>
<path d="M1562.0,614.1L1571.5,632.1L1552.5,632.1Z" stroke-width="1.20"/>
<path d="M1566.4,600.2L1575.9,618.2L1556.9,618.2Z" stroke-width="1.20"/>
<path d="M1570.9,585.8L1580.4,603.8L1561.4,603.8Z" stroke-width="1.20"/>
<path d="M1575.4,571.2L1584.9,589.2L1565.9,589.2Z" stroke-width="1.20"/>
<path d="M1580.0,556.3L1589.5,574.3L1570.5,574.3Z" stroke-width="1.20"/>
<path d="M1584.7,541.2L1594.2,559.2L1575.2,559.2Z" stroke-width="1.20"/>
<path d="M1589.5,525.9L1599.0,543.9L1580.0,543.9Z" stroke-width="1.20"/>
<path d="M1594.3,510.4L1603.8,528.4L1584.8,528.4Z" stroke-width="1.20"/>
<path d="M1599.2,494.7L1608.7,512.7L1589.7,512.7Z" stroke-width="1.20"/>
<path d="M1604.2,478.8L1613.7,496.8L1594.7,496.8Z" stroke-width="1.20"/>
<path d="M1609.3,462.7L1618.8,480.7L1599.8,480.7Z" stroke-width="1.20"/>
<path d="M1614.4,446.6L1623.9,464.6L1604.9,464.6Z" stroke-width="1.20"/>
<path d="M1619.6,430.2L1629.1,448.2L1610.1,448.2Z" stroke-width="1.20"/>
<path d="M1625.0,413.7L1634.5,431.7L1615.5,431.7Z" stroke-width="1.20"/>
<path d="M1630.4,397.0L1639.9,415.0L1620.9,415.0Z" stroke-width="1.20"/>
<path d="M1635.9,380.1L1645.4,398.1L1626.4,398.1Z" stroke-width="1.20"/>
<path d="M1641.5,363.0L1651.0,381.0L1632.0,381.0Z" stroke-width="1.20"/>
<path d="M1647.2,346.4L1656.7,364.4L1637.7,364.4Z" stroke-width="1.20"/>
<path d="M1653.0,329.6L1662.5,347.6L1643.5,347.6Z" stroke-width="1.20"/>
<path d="M1658.9,310.0L1668.4,328.0L1649.4,328.0Z" stroke-width="1.20"/>
<path d="M1664.9,287.2L1674.4,305.2L1655.4,305.2Z" stroke-width="1.20"/>
<path d="M1671.0,262.4L1680.5,280.4L1661.5,280.4Z" stroke-width="1.20"/>
<path d="M1677.2,236.7L1686.7,254.7L1667.7,254.7Z" stroke-width="1.20"/>
<path d="M1683.6,211.7L1693.1,229.7L1674.1,229.7Z" stroke-width="1.20"/>
<path d="M1690.0,187.8L1699.5,205.8L1680.5,205.8Z" stroke-width="1.20"/>
<path d="M1696.6,166.5L1706.1,184.5L1687.1,184.5Z" stroke-width="1.20"/>
<path d="M1703.3,146.0L1712.8,164.0L1693.8,164.0Z" stroke-width="1.20"/>
<path d="M1710.2,133.0L1719.7,151.0L1700.7,151.0Z" stroke-width="1.20"/>
<path d="M1717.1,133.0L1726.6,151.0L1707.6,151.0Z" stroke-width="1.20"/>
<path d="M1724.2,133.0L1733.7,151.0L1714.7,151.0Z" stroke-width="1.20"/>
<path d="M1731.5,133.0L1741.0,151.0L1722.0,151.0Z" stroke-width="1.20"/>
<path d="M1738.8,131.5L1748.3,149.5L1729.3,149.5Z" stroke-width="1.20"/>
<path d="M1746.4,122.0L1755.9,140.0L1736.9,140.0Z" stroke-width="1.20"/>
<path d="M1754.0,107.0L1763.5,125.0L1744.5,125.0Z" stroke-width="1.20"/>
<path d="M1761.9,78.0L1771.4,96.0L1752.4,96.0Z" stroke-width="1.20"/>
<path d="M1769.9,26.5L1779.4,44.5L1760.4,44.5Z" stroke-width="1.20"/>
</g>
<polyline points="1239.5,1232.3 1240.3,1231.9 1241.2,1231.4 1242.0,1231.0 1242.9,1230.6 1243.8,1230.1 1244.6,1229.7 1245.5,1229.2 1246.4,1228.8 1247.3,1228.3 1248.2,1227.8 1249.1,1227.4 1250.0,1226.9 1250.9,1226.4 1251.9,1225.9 1252.8,1225.4 1253.7,1224.9 1254.7,1224.3 1255.6,1223.8 1256.6,1223.3 1257.6,1222.7 1258.5,1222.2 1259.5,1221.6 1260.5,1221.1 1261.5,1220.5 1262.5,1220.0 1263.5,1219.4 1264.5,1218.8 1265.5,1218.3 1266.6,1217.7 1267.6,1217.1 1268.7,1216.5 1269.7,1215.9 1270.8,1215.3 1271.9,1214.7 1272.9,1214.1 1274.0,1213.5 1275.1,1212.9 1276.2,1212.3 1277.3,1211.6 1278.4,1211.0 1279.6,1210.3 1280.7,1209.7 1281.9,1209.0 1283.0,1208.3 1284.2,1207.6 1285.4,1206.9 1286.5,1206.2 1287.7,1205.5 1288.9,1204.7 1290.1,1204.0 1291.4,1203.2 1292.6,1202.4 1293.8,1201.7 1295.1,1200.9 1296.4,1200.0 1297.6,1199.2 1298.9,1198.3 1300.2,1197.5 1301.5,1196.6 1302.8,1195.7 1304.1,1194.7 1305.5,1193.8 1306.8,1192.8 1308.2,1191.8 1309.6,1190.8 1310.9,1189.8 1312.3,1188.7 1313.7,1187.6 1315.2,1186.5 1316.6,1185.3 1318.0,1184.2 1319.5,1182.9 1321.0,1181.7 1322.4,1180.4 1323.9,1179.0 1325.5,1177.6 1327.0,1176.2 1328.5,1174.7 1330.1,1173.1 1331.6,1171.5 1333.2,1169.9 1334.8,1168.2 1336.4,1166.4 1338.0,1164.6 1339.7,1162.8 1341.3,1160.9 1343.0,1158.9 1344.7,1156.9 1346.4,1154.8 1348.1,1152.7 1349.8,1150.5 1351.6,1148.2 1353.3,1145.9 1355.1,1143.5 1356.9,1141.0 1358.7,1138.5 1360.6,1135.9 1362.4,1133.1 1364.3,1130.3 1366.2,1127.4 1368.1,1124.4 1370.0,1121.3 1372.0,1118.0 1373.9,1114.7 1375.9,1111.2 1377.9,1107.6 1380.0,1103.9 1382.0,1100.1 1384.1,1096.1 1386.2,1092.0 1388.3,1087.7 1390.5,1083.3 1392.6,1078.7 1394.8,1073.9 1397.0,1068.8 1399.2,1063.0 1401.5,1056.7 1403.8,1050.2 1406.1,1043.7 1408.4,1037.2 1410.8,1030.4 1413.2,1023.4 1415.6,1016.6 1418.0,1009.9 1420.5,1003.6 1423.0,997.5 1425.5,991.4 1428.1,985.4 1430.7,979.1 1433.3,972.5 1435.9,965.6 1438.6,958.6 1441.3,951.6 1444.1,944.7 1446.8,938.1 1449.6,931.9 1452.5,926.0 1455.4,920.1 1458.3,914.2 1461.2,907.9 1464.2,901.1 1467.2,893.6 1470.3,885.4 1473.4,876.7 1476.6,867.8 1479.7,858.7 1483.0,849.6 1486.2,840.3 1489.6,830.7 1492.9,820.9 1496.3,810.7 1499.8,800.2 1503.3,789.4 1506.8,778.5 1510.4,767.4 1514.0,756.2 1517.7,744.9 1521.5,733.5 1525.3,721.7 1529.1,709.7 1533.0,698.1 1537.0,686.0 1541.0,673.4 1545.1,660.7 1549.2,647.1 1553.4,633.2 1557.7,619.1 1562.0,604.8 1566.4,590.2 1570.9,575.3 1575.4,560.1 1580.0,544.7" fill="none" stroke="#ff0000" stroke-width="13.2" stroke-linejoin="round" stroke-linecap="round"/>
<g fill="#ff0000">
<circle cx="1239.5" cy="1232.3" r="7.60"/>
<circle cx="1240.3" cy="1231.9" r="7.60"/>
<circle cx="1241.2" cy="1231.4" r="7.60"/>
<circle cx="1242.0" cy="1231.0" r="7.60"/>
<circle cx="1242.9" cy="1230.6" r="7.60"/>
<circle cx="1243.8" cy="1230.1" r="7.60"/>
<circle cx="1244.6" cy="1229.7" r="7.60"/>
<circle cx="1245.5" cy="1229.2" r="7.60"/>
<circle cx="1246.4" cy="1228.8" r="7.60"/>
<circle cx="1247.3" cy="1228.3" r="7.60"/>
<circle cx="1248.2" cy="1227.8" r="7.60"/>
<circle cx="1249.1" cy="1227.4" r="7.60"/>
<circle cx="1250.0" cy="1226.9" r="7.60"/>
<circle cx="1250.9" cy="1226.4" r="7.60"/>
<circle cx="1251.9" cy="1225.9" r="7.60"/>
<circle cx="1252.8" cy="1225.4" r="7.60"/>
<circle cx="1253.7" cy="1224.9" r="7.60"/>
<circle cx="1254.7" cy="1224.3" r="7.60"/>
<circle cx="1255.6" cy="1223.8" r="7.60"/>
<circle cx="1256.6" cy="1223.3" r="7.60"/>
<circle cx="1257.6" cy="1222.7" r="7.60"/>
<circle cx="1258.5" cy="1222.2" r="7.60"/>
<circle cx="1259.5" cy="1221.6" r="7.60"/>
<circle cx="1260.5" cy="1221.1" r="7.60"/>
<circle cx="1261.5" cy="1220.5" r="7.60"/>
<circle cx="1262.5" cy="1220.0" r="7.60"/>
<circle cx="1263.5" cy="1219.4" r="7.60"/>
<circle cx="1264.5" cy="1218.8" r="7.60"/>
<circle cx="1265.5" cy="1218.3" r="7.60"/>
<circle cx="1266.6" cy="1217.7" r="7.60"/>
<circle cx="1267.6" cy="1217.1" r="7.60"/>
<circle cx="1268.7" cy="1216.5" r="7.60"/>
<circle cx="1269.7" cy="1215.9" r="7.60"/>
<circle cx="1270.8" cy="1215.3" r="7.60"/>
<circle cx="1271.9" cy="1214.7" r="7.60"/>
<circle cx="1272.9" cy="1214.1" r="7.60"/>
<circle cx="1274.0" cy="1213.5" r="7.60"/>
<circle cx="1275.1" cy="1212.9" r="7.60"/>
<circle cx="1276.2" cy="1212.3" r="7.60"/>
<circle cx="1277.3" cy="1211.6" r="7.60"/>
<circle cx="1278.4" cy="1211.0" r="7.60"/>
<circle cx="1279.6" cy="1210.3" r="7.60"/>
<circle cx="1280.7" cy="1209.7" r="7.60"/>
<circle cx="1281.9" cy="1209.0" r="7.60"/>
<circle cx="1283.0" cy="1208.3" r="7.60"/>
<circle cx="1284.2" cy="1207.6" r="7.60"/>
<circle cx="1285.4" cy="1206.9" r="7.60"/>
<circle cx="1286.5" cy="1206.2" r="7.60"/>
<circle cx="1287.7" cy="1205.5" r="7.60"/>
<circle cx="1288.9" cy="1204.7" r="7.60"/>
<circle cx="1290.1" cy="1204.0" r="7.60"/>
<circle cx="1291.4" cy="1203.2" r="7.60"/>
<circle cx="1292.6" cy="1202.4" r="7.60"/>
<circle cx="1293.8" cy="1201.7" r="7.60"/>
<circle cx="1295.1" cy="1200.9" r="7.60"/>
<circle cx="1296.4" cy="1200.0" r="7.60"/>
<circle cx="1297.6" cy="1199.2" r="7.60"/>
<circle cx="1298.9" cy="1198.3" r="7.60"/>
<circle cx="1300.2" cy="1197.5" r="7.60"/>
<circle cx="1301.5" cy="1196.6" r="7.59"/>
<circle cx="1302.8" cy="1195.7" r="7.57"/>
<circle cx="1304.1" cy="1194.7" r="7.56"/>
<circle cx="1305.5" cy="1193.8" r="7.55"/>
<circle cx="1306.8" cy="1192.8" r="7.54"/>
<circle cx="1308.2" cy="1191.8" r="7.53"/>
<circle cx="1309.6" cy="1190.8" r="7.51"/>
<circle cx="1310.9" cy="1189.8" r="7.50"/>
<circle cx="1312.3" cy="1188.7" r="7.49"/>
<circle cx="1313.7" cy="1187.6" r="7.48"/>
<circle cx="1315.2" cy="1186.5" r="7.46"/>
<circle cx="1316.6" cy="1185.3" r="7.45"/>
<circle cx="1318.0" cy="1184.2" r="7.44"/>
<circle cx="1319.5" cy="1182.9" r="7.42"/>
<circle cx="1321.0" cy="1181.7" r="7.41"/>
<circle cx="1322.4" cy="1180.4" r="7.40"/>
<circle cx="1323.9" cy="1179.0" r="7.38"/>
<circle cx="1325.5" cy="1177.6" r="7.37"/>
<circle cx="1327.0" cy="1176.2" r="7.36"/>
<circle cx="1328.5" cy="1174.7" r="7.34"/>
<circle cx="1330.1" cy="1173.1" r="7.33"/>
<circle cx="1331.6" cy="1171.5" r="7.32"/>
<circle cx="1333.2" cy="1169.9" r="7.30"/>
<circle cx="1334.8" cy="1168.2" r="7.29"/>
<circle cx="1336.4" cy="1166.4" r="7.27"/>
<circle cx="1338.0" cy="1164.6" r="7.26"/>
<circle cx="1339.7" cy="1162.8" r="7.24"/>
<circle cx="1341.3" cy="1160.9" r="7.23"/>
<circle cx="1343.0" cy="1158.9" r="7.21"/>
<circle cx="1344.7" cy="1156.9" r="7.20"/>
<circle cx="1346.4" cy="1154.8" r="7.18"/>
<circle cx="1348.1" cy="1152.7" r="7.17"/>
<circle cx="1349.8" cy="1150.5" r="7.15"/>
<circle cx="1351.6" cy="1148.2" r="7.14"/>
<circle cx="1353.3" cy="1145.9" r="7.12"/>
<circle cx="1355.1" cy="1143.5" r="7.10"/>
<circle cx="1356.9" cy="1141.0" r="7.09"/>
<circle cx="1358.7" cy="1138.5" r="7.07"/>
<circle cx="1360.6" cy="1135.9" r="7.05"/>
<circle cx="1362.4" cy="1133.1" r="7.04"/>
<circle cx="1364.3" cy="1130.3" r="7.02"/>
<circle cx="1366.2" cy="1127.4" r="7.00"/>
<circle cx="1368.1" cy="1124.4" r="6.99"/>
<circle cx="1370.0" cy="1121.3" r="6.97"/>
<circle cx="1372.0" cy="1118.0" r="6.95"/>
<circle cx="1373.9" cy="1114.7" r="6.93"/>
<circle cx="1375.9" cy="1111.2" r="6.92"/>
<circle cx="1377.9" cy="1107.6" r="6.90"/>
<circle cx="1380.0" cy="1103.9" r="6.88"/>
<circle cx="1382.0" cy="1100.1" r="6.86"/>
<circle cx="1384.1" cy="1096.1" r="6.84"/>
<circle cx="1386.2" cy="1092.0" r="6.82"/>
<circle cx="1388.3" cy="1087.7" r="6.81"/>
<circle cx="1390.5" cy="1083.3" r="6.79"/>
<circle cx="1392.6" cy="1078.7" r="6.77"/>
<circle cx="1394.8" cy="1073.9" r="6.75"/>
<circle cx="1397.0" cy="1068.8" r="6.73"/>
<circle cx="1399.2" cy="1063.0" r="6.71"/>
<circle cx="1401.5" cy="1056.7" r="6.70"/>
<circle cx="1403.8" cy="1050.2" r="6.70"/>
<circle cx="1406.1" cy="1043.7" r="6.70"/>
<circle cx="1408.4" cy="1037.2" r="6.70"/>
<circle cx="1410.8" cy="1030.4" r="6.70"/>
<circle cx="1413.2" cy="1023.4" r="6.70"/>
<circle cx="1415.6" cy="1016.6" r="6.70"/>
<circle cx="1418.0" cy="1009.9" r="6.70"/>
<circle cx="1420.5" cy="1003.6" r="6.70"/>
<circle cx="1423.0" cy="997.5" r="6.70"/>
<circle cx="1425.5" cy="991.4" r="6.70"/>
<circle cx="1428.1" cy="985.4" r="6.70"/>
<circle cx="1430.7" cy="979.1" r="6.70"/>
<circle cx="1433.3" cy="972.5" r="6.70"/>
<circle cx="1435.9" cy="965.6" r="6.70"/>
<circle cx="1438.6" cy="958.6" r="6.70"/>
<circle cx="1441.3" cy="951.6" r="6.70"/>
<circle cx="1444.1" cy="944.7" r="6.70"/>
<circle cx="1446.8" cy="938.1" r="6.70"/>
<circle cx="1449.6" cy="931.9" r="6.70"/>
<circle cx="1452.5" cy="926.0" r="6.70"/>
<circle cx="1455.4" cy="920.1" r="6.70"/>
<circle cx="1458.3" cy="914.2" r="6.70"/>
<circle cx="1461.2" cy="907.9" r="6.70"/>
<circle cx="1464.2" cy="901.1" r="6.70"/>
<circle cx="1467.2" cy="893.6" r="6.70"/>
<circle cx="1470.3" cy="885.4" r="6.70"/>
<circle cx="1473.4" cy="876.7" r="6.70"/>
<circle cx="1476.6" cy="867.8" r="6.70"/>
<circle cx="1479.7" cy="858.7" r="6.70"/>
<circle cx="1483.0" cy="849.6" r="6.70"/>
<circle cx="1486.2" cy="840.3" r="6.70"/>
<circle cx="1489.6" cy="830.7" r="6.70"/>
<circle cx="1492.9" cy="820.9" r="6.70"/>
<circle cx="1496.3" cy="810.7" r="6.70"/>
<circle cx="1499.8" cy="800.2" r="6.70"/>
<circle cx="1503.3" cy="789.4" r="6.70"/>
<circle cx="1506.8" cy="778.5" r="6.70"/>
<circle cx="1510.4" cy="767.4" r="6.70"/>
<circle cx="1514.0" cy="756.2" r="6.70"/>
<circle cx="1517.7" cy="744.9" r="6.70"/>
<circle cx="1521.5" cy="733.5" r="6.70"/>
<circle cx="1525.3" cy="721.7" r="6.70"/>
<circle cx="1529.1" cy="709.7" r="6.70"/>
<circle cx="1533.0" cy="698.1" r="6.70"/>
<circle cx="1537.0" cy="686.0" r="6.70"/>
<circle cx="1541.0" cy="673.4" r="6.70"/>
<circle cx="1545.1" cy="660.7" r="6.70"/>
<circle cx="1549.2" cy="647.1" r="6.70"/>
<circle cx="1553.4" cy="633.2" r="6.70"/>
<circle cx="1557.7" cy="619.1" r="6.70"/>
<circle cx="1562.0" cy="604.8" r="6.75"/>
<circle cx="1566.4" cy="590.2" r="6.85"/>
<circle cx="1570.9" cy="575.3" r="6.96"/>
<circle cx="1575.4" cy="560.1" r="7.07"/>
<circle cx="1580.0" cy="544.7" r="7.18"/>
<circle cx="1584.7" cy="529.0" r="7.29"/>
<circle cx="1589.5" cy="512.9" r="7.41"/>
<circle cx="1594.3" cy="496.7" r="7.52"/>
<circle cx="1599.2" cy="480.2" r="7.64"/>
<circle cx="1604.2" cy="463.7" r="7.76"/>
<circle cx="1609.3" cy="447.0" r="7.88"/>
<circle cx="1614.4" cy="430.0" r="7.90"/>
<circle cx="1619.6" cy="412.0" r="7.90"/>
<circle cx="1625.0" cy="394.0" r="7.90"/>
<circle cx="1630.4" cy="373.0" r="7.90"/>
<circle cx="1635.9" cy="353.0" r="7.90"/>
<circle cx="1641.5" cy="331.0" r="7.90"/>
<circle cx="1647.2" cy="313.0" r="7.90"/>
<circle cx="1653.0" cy="290.0" r="7.90"/>
<circle cx="1658.9" cy="267.0" r="7.90"/>
<circle cx="1664.9" cy="243.5" r="7.90"/>
<circle cx="1671.0" cy="219.6" r="7.90"/>
<circle cx="1677.2" cy="195.0" r="7.90"/>
<circle cx="1683.6" cy="171.0" r="7.90"/>
<circle cx="1690.0" cy="147.6" r="7.90"/>
<circle cx="1696.6" cy="124.4" r="7.90"/>
<circle cx="1703.3" cy="104.5" r="7.90"/>
<circle cx="1710.2" cy="88.0" r="7.90"/>
<circle cx="1717.1" cy="86.0" r="7.90"/>
<circle cx="1724.2" cy="87.5" r="7.90"/>
<circle cx="1731.5" cy="89.0" r="7.90"/>
<circle cx="1738.8" cy="85.5" r="7.90"/>
<circle cx="1746.4" cy="81.5" r="7.90"/>
<circle cx="1754.0" cy="62.0" r="7.90"/>
<circle cx="1761.9" cy="33.0" r="7.90"/>
<circle cx="1769.9" cy="3.0" r="7.90"/>
</g><g fill="none" stroke="#1010ff" stroke-width="1.2">
<path d="M1239.5,1230.4L1249.0,1248.4L1230.0,1248.4Z" stroke-width="1.70" stroke-opacity="1.00"/>
<path d="M1240.3,1230.1L1249.8,1248.1L1230.8,1248.1Z" stroke-width="1.70" stroke-opacity="1.00"/>
<path d="M1241.2,1229.7L1250.7,1247.7L1231.7,1247.7Z" stroke-width="1.70" stroke-opacity="1.00"/>
<path d="M1242.0,1229.4L1251.5,1247.4L1232.5,1247.4Z" stroke-width="1.70" stroke-opacity="1.00"/>
<path d="M1242.9,1229.0L1252.4,1247.0L1233.4,1247.0Z" stroke-width="1.70" stroke-opacity="1.00"/>
<path d="M1243.8,1228.6L1253.3,1246.6L1234.3,1246.6Z" stroke-width="1.70" stroke-opacity="1.00"/>
<path d="M1244.6,1228.3L1254.1,1246.3L1235.1,1246.3Z" stroke-width="1.70" stroke-opacity="1.00"/>
<path d="M1245.5,1227.9L1255.0,1245.9L1236.0,1245.9Z" stroke-width="1.70" stroke-opacity="1.00"/>
<path d="M1246.4,1227.5L1255.9,1245.5L1236.9,1245.5Z" stroke-width="1.70" stroke-opacity="1.00"/>
<path d="M1247.3,1227.2L1256.8,1245.2L1237.8,1245.2Z" stroke-width="1.70" stroke-opacity="1.00"/>
<path d="M1248.2,1226.8L1257.7,1244.8L1238.7,1244.8Z" stroke-width="1.70" stroke-opacity="1.00"/>
<path d="M1249.1,1226.4L1258.6,1244.4L1239.6,1244.4Z" stroke-width="1.70" stroke-opacity="1.00"/>
<path d="M1250.0,1226.0L1259.5,1244.0L1240.5,1244.0Z" stroke-width="1.70" stroke-opacity="1.00"/>
<path d="M1250.9,1225.7L1260.4,1243.7L1241.4,1243.7Z" stroke-width="1.70" stroke-opacity="1.00"/>
<path d="M1251.9,1225.3L1261.4,1243.3L1242.4,1243.3Z" stroke-width="1.70" stroke-opacity="1.00"/>
<path d="M1252.8,1224.9L1262.3,1242.9L1243.3,1242.9Z" stroke-width="1.70" stroke-opacity="1.00"/>
<path d="M1253.7,1224.5L1263.2,1242.5L1244.2,1242.5Z" stroke-width="1.70" stroke-opacity="1.00"/>
<path d="M1254.7,1224.1L1264.2,1242.1L1245.2,1242.1Z" stroke-width="1.70" stroke-opacity="1.00"/>
<path d="M1255.6,1223.7L1265.1,1241.7L1246.1,1241.7Z" stroke-width="1.70" stroke-opacity="1.00"/>
<path d="M1256.6,1223.3L1266.1,1241.3L1247.1,1241.3Z" stroke-width="1.70" stroke-opacity="1.00"/>
<path d="M1257.6,1222.8L1267.1,1240.8L1248.1,1240.8Z" stroke-width="1.70" stroke-opacity="1.00"/>
<path d="M1258.5,1222.4L1268.0,1240.4L1249.0,1240.4Z" stroke-width="1.70" stroke-opacity="1.00"/>
<path d="M1259.5,1222.0L1269.0,1240.0L1250.0,1240.0Z" stroke-width="1.70" stroke-opacity="1.00"/>
<path d="M1260.5,1221.6L1270.0,1239.6L1251.0,1239.6Z" stroke-width="1.70" stroke-opacity="1.00"/>
<path d="M1261.5,1221.2L1271.0,1239.2L1252.0,1239.2Z" stroke-width="1.70" stroke-opacity="1.00"/>
<path d="M1262.5,1220.7L1272.0,1238.7L1253.0,1238.7Z" stroke-width="1.70" stroke-opacity="1.00"/>
<path d="M1263.5,1220.3L1273.0,1238.3L1254.0,1238.3Z" stroke-width="1.70" stroke-opacity="1.00"/>
<path d="M1264.5,1219.8L1274.0,1237.8L1255.0,1237.8Z" stroke-width="1.70" stroke-opacity="1.00"/>
<path d="M1265.5,1219.4L1275.0,1237.4L1256.0,1237.4Z" stroke-width="1.70" stroke-opacity="1.00"/>
<path d="M1266.6,1219.0L1276.1,1237.0L1257.1,1237.0Z" stroke-width="1.70" stroke-opacity="1.00"/>
<path d="M1267.6,1218.5L1277.1,1236.5L1258.1,1236.5Z" stroke-width="1.70" stroke-opacity="1.00"/>
<path d="M1268.7,1218.1L1278.2,1236.1L1259.2,1236.1Z" stroke-width="1.70" stroke-opacity="1.00"/>
<path d="M1269.7,1217.7L1279.2,1235.7L1260.2,1235.7Z" stroke-width="1.70" stroke-opacity="1.00"/>
<path d="M1270.8,1217.2L1280.3,1235.2L1261.3,1235.2Z" stroke-width="1.70" stroke-opacity="1.00"/>
<path d="M1271.9,1216.8L1281.4,1234.8L1262.4,1234.8Z" stroke-width="1.70" stroke-opacity="1.00"/>
<path d="M1272.9,1216.3L1282.4,1234.3L1263.4,1234.3Z" stroke-width="1.70" stroke-opacity="1.00"/>
<path d="M1274.0,1215.9L1283.5,1233.9L1264.5,1233.9Z" stroke-width="1.70" stroke-opacity="1.00"/>
<path d="M1275.1,1215.4L1284.6,1233.4L1265.6,1233.4Z" stroke-width="1.70" stroke-opacity="1.00"/>
<path d="M1276.2,1214.9L1285.7,1232.9L1266.7,1232.9Z" stroke-width="1.70" stroke-opacity="1.00"/>
<path d="M1277.3,1214.5L1286.8,1232.5L1267.8,1232.5Z" stroke-width="1.70" stroke-opacity="1.00"/>
<path d="M1278.4,1214.0L1287.9,1232.0L1268.9,1232.0Z" stroke-width="1.70" stroke-opacity="1.00"/>
<path d="M1279.6,1213.5L1289.1,1231.5L1270.1,1231.5Z" stroke-width="1.70" stroke-opacity="1.00"/>
<path d="M1280.7,1213.0L1290.2,1231.0L1271.2,1231.0Z" stroke-width="1.70" stroke-opacity="0.99"/>
<path d="M1281.9,1212.5L1291.4,1230.5L1272.4,1230.5Z" stroke-width="1.70" stroke-opacity="0.97"/>
<path d="M1283.0,1212.0L1292.5,1230.0L1273.5,1230.0Z" stroke-width="1.70" stroke-opacity="0.95"/>
<path d="M1284.2,1211.4L1293.7,1229.4L1274.7,1229.4Z" stroke-width="1.70" stroke-opacity="0.93"/>
<path d="M1285.4,1210.9L1294.9,1228.9L1275.9,1228.9Z" stroke-width="1.70" stroke-opacity="0.91"/>
<path d="M1286.5,1210.3L1296.0,1228.3L1277.0,1228.3Z" stroke-width="1.70" stroke-opacity="0.89"/>
<path d="M1287.7,1209.7L1297.2,1227.7L1278.2,1227.7Z" stroke-width="1.70" stroke-opacity="0.87"/>
<path d="M1288.9,1209.1L1298.4,1227.1L1279.4,1227.1Z" stroke-width="1.70" stroke-opacity="0.85"/>
<path d="M1290.1,1208.5L1299.6,1226.5L1280.6,1226.5Z" stroke-width="1.70" stroke-opacity="0.83"/>
<path d="M1291.4,1207.9L1300.9,1225.9L1281.9,1225.9Z" stroke-width="1.70" stroke-opacity="0.81"/>
<path d="M1292.6,1207.2L1302.1,1225.2L1283.1,1225.2Z" stroke-width="1.70" stroke-opacity="0.79"/>
<path d="M1293.8,1206.5L1303.3,1224.5L1284.3,1224.5Z" stroke-width="1.70" stroke-opacity="0.77"/>
<path d="M1295.1,1205.8L1304.6,1223.8L1285.6,1223.8Z" stroke-width="1.70" stroke-opacity="0.75"/>
<path d="M1296.4,1205.1L1305.9,1223.1L1286.9,1223.1Z" stroke-width="1.70" stroke-opacity="0.73"/>
<path d="M1297.6,1204.3L1307.1,1222.3L1288.1,1222.3Z" stroke-width="1.70" stroke-opacity="0.71"/>
<path d="M1298.9,1203.5L1308.4,1221.5L1289.4,1221.5Z" stroke-width="1.70" stroke-opacity="0.68"/>
<path d="M1300.2,1202.7L1309.7,1220.7L1290.7,1220.7Z" stroke-width="1.70" stroke-opacity="0.66"/>
<path d="M1301.5,1201.8L1311.0,1219.8L1292.0,1219.8Z" stroke-width="1.70" stroke-opacity="0.64"/>
<path d="M1302.8,1201.0L1312.3,1219.0L1293.3,1219.0Z" stroke-width="1.70" stroke-opacity="0.62"/>
<path d="M1304.1,1200.1L1313.6,1218.1L1294.6,1218.1Z" stroke-width="1.70" stroke-opacity="0.60"/>
<path d="M1305.5,1199.1L1315.0,1217.1L1296.0,1217.1Z" stroke-width="1.70" stroke-opacity="0.58"/>
<path d="M1306.8,1198.2L1316.3,1216.2L1297.3,1216.2Z" stroke-width="1.70" stroke-opacity="0.55"/>
<path d="M1308.2,1197.2L1317.7,1215.2L1298.7,1215.2Z" stroke-width="1.70" stroke-opacity="0.53"/>
<path d="M1309.6,1196.2L1319.1,1214.2L1300.1,1214.2Z" stroke-width="1.70" stroke-opacity="0.51"/>
<path d="M1310.9,1195.2L1320.4,1213.2L1301.4,1213.2Z" stroke-width="1.70" stroke-opacity="0.48"/>
<path d="M1312.3,1194.2L1321.8,1212.2L1302.8,1212.2Z" stroke-width="1.70" stroke-opacity="0.46"/>
<path d="M1313.7,1193.1L1323.2,1211.1L1304.2,1211.1Z" stroke-width="1.70" stroke-opacity="0.44"/>
<path d="M1315.2,1192.0L1324.7,1210.0L1305.7,1210.0Z" stroke-width="1.70" stroke-opacity="0.41"/>
<path d="M1316.6,1190.9L1326.1,1208.9L1307.1,1208.9Z" stroke-width="1.70" stroke-opacity="0.39"/>
<path d="M1318.0,1189.8L1327.5,1207.8L1308.5,1207.8Z" stroke-width="1.70" stroke-opacity="0.37"/>
<path d="M1319.5,1188.6L1329.0,1206.6L1310.0,1206.6Z" stroke-width="1.70" stroke-opacity="0.34"/>
<path d="M1321.0,1187.4L1330.5,1205.4L1311.5,1205.4Z" stroke-width="1.70" stroke-opacity="0.32"/>
<path d="M1322.4,1186.2L1331.9,1204.2L1312.9,1204.2Z" stroke-width="1.70" stroke-opacity="0.29"/>
<path d="M1323.9,1184.9L1333.4,1202.9L1314.4,1202.9Z" stroke-width="1.70" stroke-opacity="0.27"/>
<path d="M1325.5,1183.6L1335.0,1201.6L1316.0,1201.6Z" stroke-width="1.70" stroke-opacity="0.24"/>
<path d="M1327.0,1182.2L1336.5,1200.2L1317.5,1200.2Z" stroke-width="1.70" stroke-opacity="0.22"/>
<path d="M1328.5,1180.9L1338.0,1198.9L1319.0,1198.9Z" stroke-width="1.70" stroke-opacity="0.19"/>
<path d="M1330.1,1179.5L1339.6,1197.5L1320.6,1197.5Z" stroke-width="1.70" stroke-opacity="0.17"/>
<path d="M1331.6,1178.0L1341.1,1196.0L1322.1,1196.0Z" stroke-width="1.70" stroke-opacity="0.14"/>
<path d="M1333.2,1176.6L1342.7,1194.6L1323.7,1194.6Z" stroke-width="1.70" stroke-opacity="0.11"/>
<path d="M1334.8,1175.1L1344.3,1193.1L1325.3,1193.1Z" stroke-width="1.70" stroke-opacity="0.09"/>
<path d="M1336.4,1173.7L1345.9,1191.7L1326.9,1191.7Z" stroke-width="1.70" stroke-opacity="0.06"/>
<path d="M1338.0,1172.2L1347.5,1190.2L1328.5,1190.2Z" stroke-width="1.70" stroke-opacity="0.03"/>
<path d="M1339.7,1170.7L1349.2,1188.7L1330.2,1188.7Z" stroke-width="1.70" stroke-opacity="0.01"/>
</g>
</g>
<line x1="1700.4" y1="110" x2="1405.6" y2="1301" stroke="#000" stroke-width="2.8"/>
<line x1="1701.7" y1="110" x2="1410.0" y2="1305" stroke="#ff0000" stroke-width="2.8" stroke-dasharray="15.5 16"/>
<line x1="1695.6" y1="200" x2="1417.5" y2="1305" stroke="#0000ff" stroke-width="4" stroke-dasharray="4 14"/>
<polygon points="1395.5,1301.5 1413.5,1302 1414,1309 1400,1338 1395.5,1338" fill="#000"/>
<line x1="1416.5" y1="1304" x2="1403" y2="1337" stroke="#ff0000" stroke-width="6"/>
<line x1="1422.5" y1="1309.5" x2="1409.5" y2="1339" stroke="#0000ff" stroke-width="6"/>
</g>
<rect x="1062.0" y="32.8" width="767.9000000000001" height="1305.8" fill="none" stroke="#000" stroke-width="4"/>
<path d="M1139.3,1338.6V1312.6 M1216.0,1338.6V1325.6 M1292.6,1338.6V1312.6 M1369.2,1338.6V1325.6 M1445.9,1338.6V1312.6 M1522.5,1338.6V1325.6 M1599.2,1338.6V1312.6 M1675.8,1338.6V1325.6 M1752.5,1338.6V1312.6" stroke="#000" stroke-width="3.8" fill="none"/>
<text x="1139.3" y="1407" font-size="53" text-anchor="middle">0.5</text>
<text x="1292.6" y="1407" font-size="53" text-anchor="middle">1.0</text>
<text x="1445.9" y="1407" font-size="53" text-anchor="middle">1.5</text>
<text x="1599.2" y="1407" font-size="53" text-anchor="middle">2.0</text>
<text x="1752.5" y="1407" font-size="53" text-anchor="middle">2.5</text>
<text x="1446" y="1477" font-size="71" text-anchor="middle"><tspan font-style="italic">hv</tspan> (eV)</text>
<text transform="translate(1029,659) rotate(-90)" font-size="71" text-anchor="middle">(<tspan font-style="italic">Ahv</tspan>)<tspan font-size="44" dx="-2.5" dy="-39">2</tspan></text>
<text x="996" y="87.6" font-size="70" font-weight="bold">b</text>
<rect x="1157.5" y="79.5" width="13" height="13" fill="none" stroke="#555" stroke-width="1.8"/>
<circle cx="1164" cy="165.5" r="8.3" fill="#ff0000"/>
<path d="M1165,234L1174.5,250.5L1155.5,250.5Z" fill="none" stroke="#4a4aff" stroke-width="1.8"/>
<text x="1247" y="107.2" font-size="54">500</text><text x="1348" y="78.7" font-size="32">o</text><text x="1363.5" y="107.2" font-size="54">C, 10 min</text>
<text x="1247" y="186.2" font-size="54">550</text><text x="1348" y="157.7" font-size="32">o</text><text x="1363.5" y="186.2" font-size="54">C, 10 min</text>
<text x="1247" y="265.2" font-size="54">600</text><text x="1348" y="236.7" font-size="32">o</text><text x="1363.5" y="265.2" font-size="54">C, 10 min</text>
</svg>
</body></html>
